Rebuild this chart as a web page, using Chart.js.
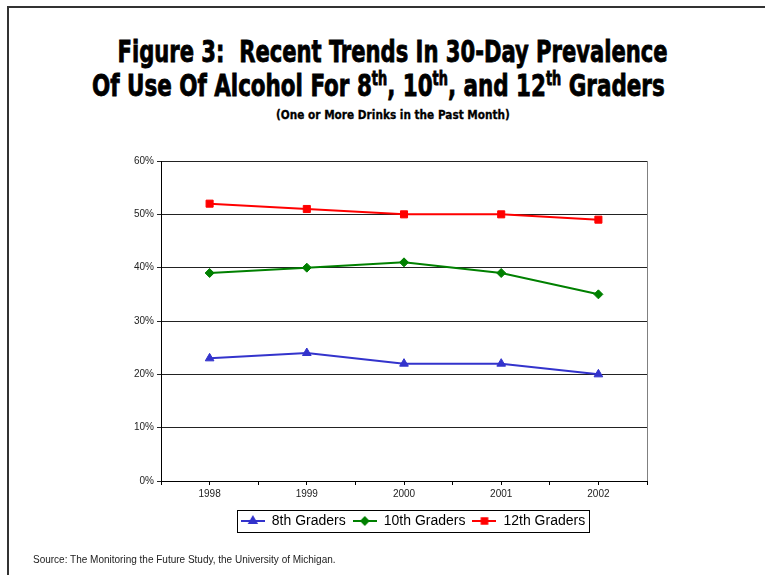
<!DOCTYPE html>
<html>
<head>
<meta charset="utf-8">
<script src="https://cdn.jsdelivr.net/npm/chart.js@4/dist/chart.umd.min.js"></script>
<style>
  html, body { margin: 0; padding: 0; background: #fff; }
  #page { position: relative; width: 765px; height: 575px; overflow: hidden; }
  #frame { position: absolute; left: 7px; top: 6px; right: -4px; bottom: -4px;
           border-top: 2px solid #333; border-left: 2px solid #333; }
  .title { position: absolute; left: 0; width: 765px; text-align: center; white-space: nowrap;
           font-family: "DejaVu Sans Condensed", "DejaVu Sans", sans-serif; font-weight: bold; color: #000;
           -webkit-text-stroke: 0.8px #000; line-height: 1; }
  .title span { display: inline-block; transform-origin: center; }
  #t1 { top: 36px; font-size: 31px; }
  #t2 { top: 70px; font-size: 31px; }
  #t3 { top: 108px; font-size: 13px; -webkit-text-stroke: 0.3px #000; }
  sup { font-size: 60%; vertical-align: 0; position: relative; top: -0.6em; }
  #source { position: absolute; left: 33px; top: 554px; font: 10px "Liberation Sans", Arial, sans-serif; color: #222; }
  #chartBox { position: absolute; left: 0; top: 0; width: 765px; height: 575px; }
</style>
</head>
<body>
<div id="page">
  <div id="frame"></div>
  <div class="title" id="t1"><span>Figure 3:&nbsp; Recent Trends In 30-Day Prevalence</span></div>
  <div class="title" id="t2"><span>Of Use Of Alcohol For 8<sup>th</sup>, 10<sup>th</sup>, and 12<sup>th</sup> Graders</span></div>
  <div class="title" id="t3"><span>(One or More Drinks in the Past Month)</span></div>
  <div id="chartBox"><canvas id="chart"></canvas></div>
  <div id="source">Source: The Monitoring the Future Study, the University of Michigan.</div>
</div>
<script>
const years = ['1998', '1999', '2000', '2001', '2002'];
const grade8 = [23, 24, 22, 22, 20];
const grade10 = [39, 40, 41, 39, 35];
const grade12 = [52, 51, 50, 50, 49];
const seriesNames = ['8th Graders', '10th Graders', '12th Graders'];
const yTicks = [0, 10, 20, 30, 40, 50, 60];

// squeeze the title lines to the widths of the condensed face in the picture
function fitTitle(id, w, dx) {
    const s = document.querySelector('#' + id + ' span');
    s.style.transform = 'translateX(' + dx + 'px) scaleX(' + (w / s.offsetWidth) + ')';
}
fitTitle('t1', 550, 10);
fitTitle('t2', 573, -4);
fitTitle('t3', 234, 10);

const colors = ['#3333CC', '#008000', '#FF0000'];
const styles = ['triangle', 'rectRot', 'rect'];
const radii = [5, 4.5, 5];

// little line + marker images for the legend
function legendIcon(color, style, r) {
    const c = document.createElement('canvas');
    c.width = 24; c.height = 12;
    const g = c.getContext('2d');
    g.strokeStyle = color; g.lineWidth = 2;
    g.beginPath(); g.moveTo(0, 6); g.lineTo(24, 6); g.stroke();
    Chart.helpers.drawPoint(g, { pointStyle: style, radius: r - 1, borderWidth: 1, rotation: 0 }, 12, 6);
    g.fillStyle = color; g.fill();
    return c;
}

const legendShift = {
    id: 'legendShift',
    afterLayout(chart) {
        const lg = chart.legend;
        lg.left += 24; lg.right += 24;
        lg.top += 4; lg.bottom += 4;
    },
    afterDraw(chart) {
        const boxes = chart.legend.legendHitBoxes;
        if (!boxes || !boxes.length) return;
        const last = boxes[boxes.length - 1];
        const l = boxes[0].left - 4;
        const r = last.left + last.width + 4;
        const t = boxes[0].top - 4;
        const b = boxes[0].top + boxes[0].height + 4;
        const ctx = chart.ctx;
        ctx.save();
        ctx.strokeStyle = '#000';
        ctx.lineWidth = 1;
        ctx.strokeRect(Math.round(l) + 0.5, Math.round(t) + 0.5, Math.round(r - l), Math.round(b - t));
        ctx.restore();
    }
};

const plotFrame = {
    id: 'plotFrame',
    afterDatasetsDraw(chart) {
        const a = chart.chartArea;
        const ctx = chart.ctx;
        ctx.save();
        ctx.strokeStyle = '#808080';
        ctx.lineWidth = 1;
        ctx.beginPath();
        ctx.moveTo(Math.round(a.right) + 0.5, a.top);
        ctx.lineTo(Math.round(a.right) + 0.5, a.bottom);
        ctx.stroke();
        ctx.restore();
    }
};

const datasets = [grade8, grade10, grade12].map((d, i) => ({
    label: seriesNames[i],
    data: d,
    borderColor: colors[i],
    backgroundColor: colors[i],
    pointStyle: styles[i],
    pointRadius: radii[i],
    pointBorderWidth: 1,
    borderWidth: 2,
    tension: 0,
    fill: false,
    xAxisID: 'x',
}));

const icons = datasets.map((d, i) => legendIcon(colors[i], styles[i], radii[i]));

new Chart(document.getElementById('chart'), {
    type: 'line',
    data: { labels: years, datasets: datasets },
    plugins: [legendShift, plotFrame],
    options: {
        responsive: true,
        maintainAspectRatio: false,
        animation: false,
        layout: { padding: { top: 161, left: 131, right: 118, bottom: 41 } },
        plugins: {
            tooltip: { enabled: false },
            legend: {
                position: 'bottom',
                labels: {
                    usePointStyle: true,
                    pointStyleWidth: 24,
                    padding: 7,
                    color: '#000',
                    font: { family: '"Liberation Sans", Arial, sans-serif', size: 14 },
                    generateLabels(chart) {
                        const items = Chart.defaults.plugins.legend.labels.generateLabels(chart);
                        items.forEach((it, i) => { it.pointStyle = icons[i]; });
                        return items;
                    }
                }
            }
        },
        scales: {
            // boundary tick marks, kept flush with the axis line
            x2: {
                type: 'category',
                labels: years,
                position: 'bottom',
                weight: -1,
                offset: true,
                afterFit(scale) { scale.height = 0; },
                grid: { display: true, drawOnChartArea: false, offset: true, tickLength: 4, color: '#000' },
                border: { display: false },
                ticks: { display: false }
            },
            x: {
                position: 'bottom',
                weight: 0,
                offset: true,
                grid: { display: true, drawOnChartArea: false, offset: false, tickLength: 4, color: '#000' },
                border: { color: '#000', width: 1 },
                ticks: { color: '#222', padding: 3, font: { family: '"Liberation Sans", Arial, sans-serif', size: 10 } }
            },
            y: {
                min: 0,
                max: 60,
                afterBuildTicks(axis) { axis.ticks = yTicks.map(v => ({ value: v })); },
                grid: { color: '#222', tickLength: 4, lineWidth: 1 },
                border: { color: '#000', width: 1 },
                ticks: {
                    color: '#222',
                    padding: 3,
                    font: { family: '"Liberation Sans", Arial, sans-serif', size: 10 },
                    callback: v => v + '%'
                }
            }
        }
    }
});
</script>
</body>
</html>
